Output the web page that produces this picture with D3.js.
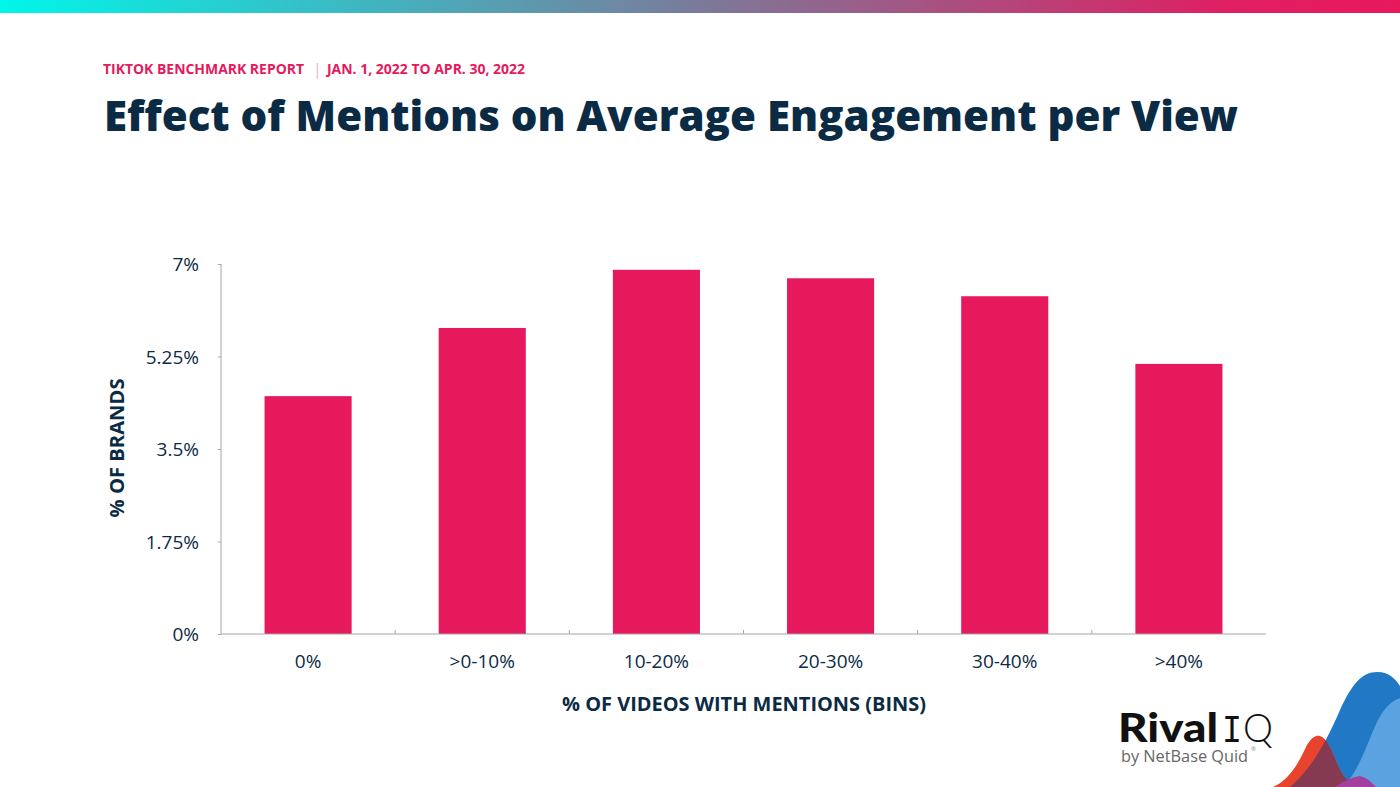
<!DOCTYPE html>
<html><head><meta charset="utf-8">
<script src="https://cdn.jsdelivr.net/npm/d3@7"></script>
<style>body{margin:0;background:#fff;}svg{display:block;font-family:"Open Sans",sans-serif;}</style>
</head><body>
<svg id="c" width="1400" height="787"></svg>
<script>
const categories = ["0%", ">0-10%", "10-20%", "20-30%", "30-40%", ">40%"];
const values = [4.50, 5.79, 6.89, 6.73, 6.39, 5.11];
const yTicks = [0, 1.75, 3.5, 5.25, 7];
const yTickLabels = ["0%", "1.75%", "3.5%", "5.25%", "7%"];

const svg = d3.select("#c");
const navy = "#0b2b45", pink = "#e6195d";

// top gradient bar
const defs = svg.append("defs");
const g1 = defs.append("linearGradient").attr("id","topg");
g1.append("stop").attr("offset","0%").attr("stop-color","#00f6ea");
g1.append("stop").attr("offset","50%").attr("stop-color","#7b7a9a");
g1.append("stop").attr("offset","88%").attr("stop-color","#e01e62");
g1.append("stop").attr("offset","100%").attr("stop-color","#e8185d");
svg.append("rect").attr("x",0).attr("y",0).attr("width",1400).attr("height",13).attr("fill","url(#topg)");

// header
svg.append("text").attr("x",103).attr("y",74).attr("fill",pink).attr("font-size",14).attr("font-weight",700)
  .attr("textLength",201).attr("lengthAdjust","spacingAndGlyphs").text("TIKTOK BENCHMARK REPORT");
svg.append("text").attr("x",313).attr("y",75).attr("fill","#e88aa8").attr("font-size",16).attr("font-weight",300).text("|");
svg.append("text").attr("x",327).attr("y",74).attr("fill",pink).attr("font-size",14).attr("font-weight",700)
  .attr("textLength",198).attr("lengthAdjust","spacingAndGlyphs").text("JAN. 1, 2022 TO APR. 30, 2022");
svg.append("text").attr("x",104).attr("y",131).attr("fill",navy).attr("font-size",42).attr("font-weight",800)
  .attr("textLength",1134).attr("lengthAdjust","spacingAndGlyphs")
  .text("Effect of Mentions on Average Engagement per View");

// chart
const x = d3.scaleBand().domain(categories).range([221, 1266]).paddingInner(0.5).paddingOuter(0.25);
const y = d3.scaleLinear().domain([0, 7]).range([634, 264]);

svg.selectAll("rect.bar").data(values).join("rect").attr("class","bar")
  .attr("x",(d,i)=>x(categories[i])).attr("width",x.bandwidth())
  .attr("y",d=>y(d)).attr("height",d=>y(0)-y(d)).attr("fill",pink);

const axisColor = "#a6a6a6";
const yAxis = svg.append("g").attr("transform","translate(221,0)")
  .call(d3.axisLeft(y).tickValues(yTicks).tickFormat((d,i)=>yTickLabels[i]).tickSize(3).tickPadding(19));
yAxis.select(".domain").attr("stroke",axisColor).attr("d","M0,264V634");
yAxis.selectAll(".tick line").attr("stroke",axisColor);
yAxis.selectAll("text").attr("fill",navy).attr("font-size",19).attr("font-family","Open Sans").attr("dy","0.36em");

// x axis
const xAxisG = svg.append("g").attr("transform","translate(0,634)");
xAxisG.append("line").attr("x1",221).attr("x2",1266).attr("stroke",axisColor).attr("stroke-width",1.2);
const step = x.step();
const bounds = d3.range(1, categories.length).map(i => x(categories[i]) - step*0.25);
xAxisG.selectAll("line.t").data(bounds).join("line").attr("class","t")
  .attr("x1",d=>d).attr("x2",d=>d).attr("y1",0).attr("y2",-4).attr("stroke",axisColor);
xAxisG.selectAll("text").data(categories).join("text")
  .attr("x",d=>x(d)+x.bandwidth()/2).attr("y",34).attr("text-anchor","middle")
  .attr("fill",navy).attr("font-size",19).text(d=>d);

svg.append("text").attr("x",744).attr("y",711).attr("text-anchor","middle").attr("fill",navy)
  .attr("font-size",20).attr("font-weight",700).attr("textLength",364).attr("lengthAdjust","spacingAndGlyphs")
  .text("% OF VIDEOS WITH MENTIONS (BINS)");
svg.append("text").attr("transform","translate(124,448) rotate(-90)").attr("text-anchor","middle").attr("fill",navy)
  .attr("font-size",20).attr("font-weight",700).attr("textLength",139).attr("lengthAdjust","spacingAndGlyphs")
  .text("% OF BRANDS");

// logo
svg.append("text").attr("x",1118).attr("y",742).attr("fill","#111").attr("font-size",39).attr("font-weight",900)
  .attr("font-family","Lato").attr("textLength",100).attr("lengthAdjust","spacingAndGlyphs").text("Rival");
svg.append("text").attr("x",1222).attr("y",742).attr("fill","#111").attr("font-size",38).attr("font-weight",400)
  .attr("font-family","Liberation Mono").attr("textLength",20).attr("lengthAdjust","spacingAndGlyphs").text("I");
svg.append("text").attr("x",1243).attr("y",742).attr("fill","#111").attr("font-size",39).attr("font-weight",300)
  .attr("font-family","Lato").attr("textLength",30).attr("lengthAdjust","spacingAndGlyphs").text("Q");
svg.append("text").attr("x",1121).attr("y",762).attr("fill","#666").attr("font-size",16.5)
  .attr("font-family","Open Sans").attr("textLength",127).attr("lengthAdjust","spacingAndGlyphs").text("by NetBase Quid");
svg.append("text").attr("x",1251).attr("y",751).attr("fill","#888").attr("font-size",6).text("®");

// decorative waves
const dark = "M1290,787 C1310,770 1325,745 1340,710 C1352,684 1362,672 1377,672 C1390,672 1396,680 1400,686 L1400,787 Z";
const light = "M1343,787 C1360,770 1368,740 1378,720 C1386,705 1394,700 1400,698 L1400,787 Z";
const red = "M1273,787 C1290,780 1300,760 1307,745 C1312,737 1316,735 1320,736 C1328,738 1333,755 1340,770 C1345,780 1352,785 1362,787 Z";
defs.append("clipPath").attr("id","dk").append("path").attr("d",dark);
svg.append("path").attr("d",dark).attr("fill","#2179c6");
svg.append("path").attr("d",light).attr("fill","#5ba2e1");
svg.append("path").attr("d",red).attr("fill","#e8432d");
svg.append("path").attr("d",red).attr("fill","#853a52").attr("clip-path","url(#dk)");
svg.append("path").attr("d","M1335,787 C1342,782 1350,778 1360,776 C1368,778 1372,783 1376,787 Z").attr("fill","#a23f9f");
</script>
</body></html>
